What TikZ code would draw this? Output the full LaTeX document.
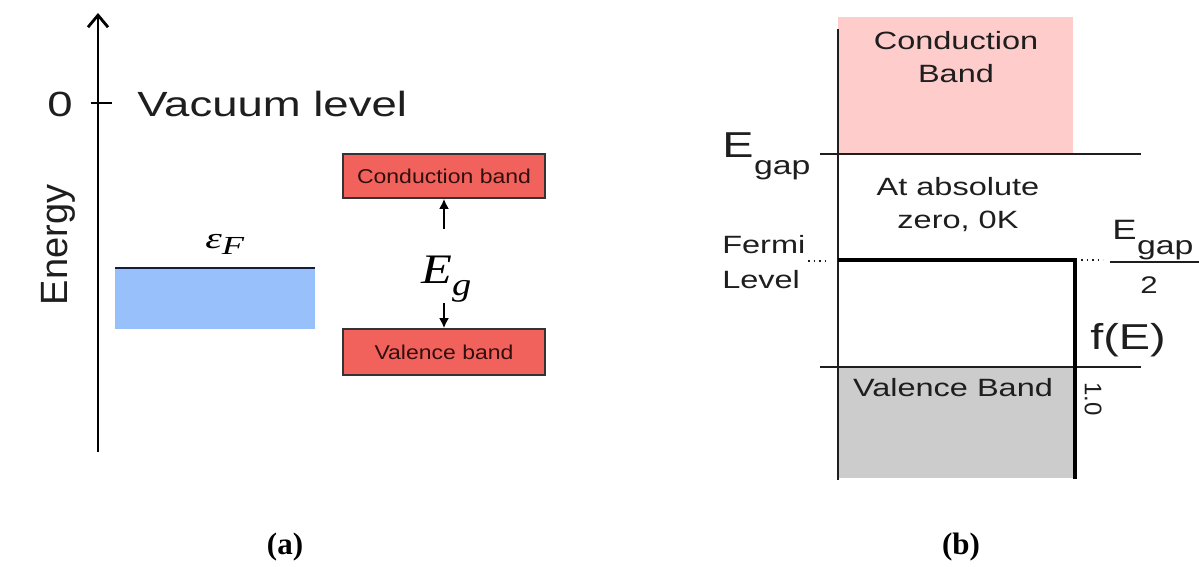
\documentclass[tikz,border=0pt]{standalone}
\usepackage{fontspec}
\setmainfont{Liberation Sans}
\newfontfamily\capfont{Liberation Serif}
\usetikzlibrary{arrows.meta}
\definecolor{bandred}{RGB}{242,98,92}
\definecolor{bandtxt}{RGB}{50,15,15}
\definecolor{fermiblue}{RGB}{152,192,250}
\definecolor{navy}{RGB}{20,30,60}
\definecolor{cbpink}{RGB}{255,204,204}
\definecolor{vbgray}{RGB}{204,204,204}
\definecolor{ink}{RGB}{30,30,30}
\newcommand{\fsz}[1]{\fontsize{#1}{#1}\selectfont}
\tikzset{
  lbl/.style={inner sep=0pt, text=ink, xscale=1.3},
  bigl/.style={lbl, font=\fsz{35}},
  midl/.style={lbl, font=\fontsize{25}{33}\selectfont, align=center},
  bandbox/.style={draw=black!80, line width=1.6pt, fill=bandred, minimum width=176pt, inner sep=0pt, text=bandtxt, font=\fsz{20}},
  thin/.style={line width=1.8pt, draw=ink},
  thick2/.style={line width=3.6pt, draw=black},
  gaparrow/.style={line width=2.4pt, -{Latex[length=10pt,width=10pt]}},
  capt/.style={inner sep=0pt, font=\capfont\bfseries\fsz{31}},
  mathl/.style={inner sep=0pt, text=black, font=\capfont\itshape},
}
\begin{document}
\begin{tikzpicture}[x=1pt,y=-1pt]
\useasboundingbox (0,0) rectangle (1199,567);
% ---------- (a) ----------
\coordinate (axb) at (98,452);
\coordinate (axt) at (98,13);
\draw[line width=2.8pt, -{Straight Barb[length=12pt,width=20pt,line width=2.8pt]}] (axb) -- (axt);
\coordinate (tl) at (91,103);
\coordinate (tr) at (112,103);
\draw[line width=1.8pt] (tl) -- (tr);
\node[bigl] (zero) at (60,104) {0};
\node[bigl, anchor=west] (vac) at (137,104) {Vacuum level};
\node[inner sep=0pt, text=ink, rotate=90, font=\fsz{38}] (energy) at (58,245) {Energy};
\node[fill=fermiblue, minimum width=200pt, minimum height=61pt, inner sep=0pt] (fermi) at (215,298.5) {};
\draw[line width=2pt, navy] (fermi.north west) -- (fermi.north east);
\node[mathl, xscale=1.4, anchor=base west] (ef) at (205,248) {\fsz{30}ε\raisebox{-6pt}{\fsz{26}F}};
\node[bandbox, minimum height=44pt, xscale=1.15] (cb) at (444,176) {Conduction band};
\node[bandbox, minimum height=46pt, xscale=1.15] (vb) at (444,352) {Valence band};
\node[mathl, xscale=1.2, anchor=base west] (eg) at (421,283) {\fsz{42}E\raisebox{-12pt}{\fsz{32}g}};
\coordinate (upt) at (444,229);
\coordinate (dnt) at (444,303);
\draw[gaparrow] (upt) -- (cb.south);
\draw[gaparrow] (dnt) -- (vb.north);
\node[capt] (capa) at (285,547) {(a)};
% ---------- (b) ----------
\node[fill=cbpink, minimum width=235pt, minimum height=137pt, inner sep=0pt] (cband) at (955.5,85.5) {};
\node[fill=vbgray, minimum width=237pt, minimum height=111pt, inner sep=0pt] (vband) at (956.5,422.5) {};
\coordinate (vt) at (838,29);
\coordinate (vbot) at (838,480);
\draw[thin] (vt) -- (vbot);
\coordinate (gl) at (820,154);
\coordinate (gr) at (1141,154);
\draw[thin] (gl) -- (gr);
\coordinate (vl) at (820,367);
\coordinate (vr) at (1141,367);
\draw[thin] (vl) -- (vr);
\coordinate (fa) at (838,260);
\coordinate (fb) at (1075,260);
\coordinate (fc) at (1075,479);
\draw[thick2] (fa) -- (fb) -- (fc);
\coordinate (d1a) at (808,261);
\coordinate (d1b) at (829,261);
\coordinate (d2a) at (1081,260);
\coordinate (d2b) at (1103,260);
\draw[line width=1.3pt, ink, dash pattern=on 1.5pt off 4pt] (d1a) -- (d1b);
\draw[line width=1.3pt, ink, dash pattern=on 1.5pt off 4pt] (d2a) -- (d2b);
\node[midl] (cbt) at (956,57) {Conduction\\Band};
\node[midl] (abs) at (958,205) {At absolute\\zero, 0K};
\node[midl] (vbt) at (953,388) {Valence Band};
\node[midl, align=left, anchor=west, font=\fontsize{25}{35}\selectfont] (fl) at (722,262) {Fermi\\Level};
\node[lbl, font=\fsz{36}, anchor=west] (eg1) at (722,145) {E};
\node[lbl, font=\fsz{26}, anchor=west] (eg1s) at (eg1.east |- 0,170) {gap};
\node[lbl, font=\fsz{28}, anchor=west] (eg2) at (1112,230) {E};
\node[lbl, font=\fsz{26}, anchor=west] (eg2s) at (eg2.east |- 0,250) {gap};
\coordinate (frl) at (1110,262);
\coordinate (frr) at (1199,262);
\draw[line width=1.8pt, ink] (frl) -- (frr);
\node[lbl, font=\fsz{24}] (two) at (1149,285) {2};
\node[lbl, font=\fsz{36}] (fe) at (1128,340) {f(E)};
\node[inner sep=0pt, text=ink, rotate=-90, font=\fsz{24}] (one) at (1093,399) {1.0};
\node[capt] (capb) at (961,547) {(b)};
\end{tikzpicture}
\end{document}
